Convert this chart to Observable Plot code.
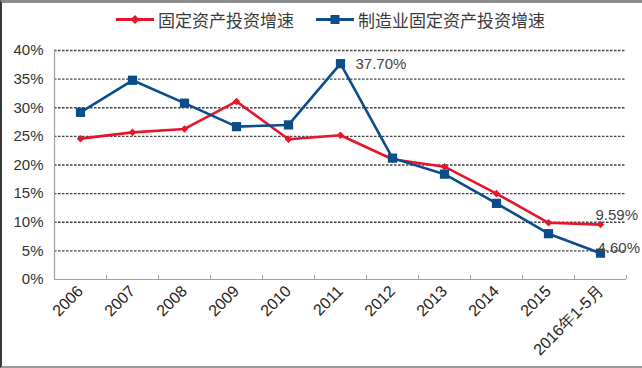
<!DOCTYPE html>
<html><head><meta charset="utf-8">
<script src="https://cdn.jsdelivr.net/npm/d3@7"></script>
<script src="https://cdn.jsdelivr.net/npm/@observablehq/plot@0.6"></script>
<style>
body{margin:0;background:#fff;}
#wrap{width:640px;height:363px;border-top:3px solid #8c8c8c;border-left:2px solid #3a3a3a;border-bottom:2px solid #9a9a9a;background:#fff;overflow:hidden;}
#legend{height:33px;position:relative;font-family:"Noto Sans CJK SC",sans-serif;font-size:17px;color:#3a3a3a;}
.item{position:absolute;top:4px;display:flex;align-items:center;}
.item span{margin-left:4px;}
</style></head>
<body>
<div id="wrap"><div id="legend"></div><div id="chart"></div></div>
<script>
const years = ["2006","2007","2008","2009","2010","2011","2012","2013","2014","2015","2016年1-5月"];
const seriesNames = ["固定资产投资增速","制造业固定资产投资增速"];
const fixedInvest = [24.6, 25.7, 26.3, 31.1, 24.5, 25.2, 21.0, 19.7, 15.0, 9.9, 9.59];
const mfgInvest = [29.2, 34.8, 30.8, 26.7, 27.0, 37.7, 21.2, 18.4, 13.3, 8.0, 4.60];
const yTicks = [0,5,10,15,20,25,30,35,40];
const labels = [
  {series: 1, i: 5, text: "37.70%"},
  {series: 0, i: 10, text: "9.59%"},
  {series: 1, i: 10, text: "4.60%"}
];
const colors = ["#E8142A", "#0B4C8A"];

// legend
const legend = document.getElementById("legend");
const legX = [114, 314];
seriesNames.forEach((name, k) => {
  const div = document.createElement("div");
  div.className = "item";
  div.style.left = legX[k] + "px";
  const sym = k === 0
    ? `<path d="M19 4 L23.5 8.5 L19 13 L14.5 8.5 Z" fill="${colors[k]}"/>`
    : `<rect x="14.5" y="4" width="9" height="9" fill="${colors[k]}"/>`;
  div.innerHTML = `<svg width="38" height="17"><line x1="0" x2="38" y1="8.5" y2="8.5" stroke="${colors[k]}" stroke-width="3"/>${sym}</svg><span>${name}</span>`;
  legend.appendChild(div);
});

const data = [];
[fixedInvest, mfgInvest].forEach((arr, s) => arr.forEach((v, i) => data.push({s, i, v})));
const lab = labels.map(d => ({...d, v: (d.series === 0 ? fixedInvest : mfgInvest)[d.i]}));
const boundaries = d3.range(-0.5, years.length, 1);

const chart = Plot.plot({
  width: 640, height: 329,
  marginTop: 14, marginBottom: 86, marginLeft: 52, marginRight: 16,
  style: {fontFamily: "'Liberation Sans', Arial, sans-serif", background: "#fff"},
  x: {domain: [-0.5, years.length - 0.5]},
  y: {domain: [0, 40]},
  marks: [
    Plot.ruleY(yTicks.filter(d => d > 0), {stroke: "#444", strokeWidth: 1.3, strokeDasharray: "2.5,1.5"}),
    Plot.ruleY([0], {stroke: "#9aa0a6", strokeWidth: 1.2}),
    Plot.ruleX([-0.5], {y1: 0, y2: 40, stroke: "#9aa0a6", strokeWidth: 1.2}),
    Plot.ruleX(boundaries, {y1: 0, y2: 0.7, stroke: "#9aa0a6"}),
    Plot.axisY({ticks: yTicks, tickFormat: d => d + "%", tickSize: 0, tickPadding: 11, fontSize: 15, fill: "#333", label: null}),
    Plot.axisX({ticks: d3.range(years.length), tickFormat: i => years[i], tickSize: 0, tickRotate: -45, tickPadding: 9, fontSize: 16, fill: "#222", label: null}),
    Plot.line(data, {x: "i", y: "v", z: "s", stroke: d => colors[d.s], strokeWidth: 2.6}),
    Plot.dot(data.filter(d => d.s === 0), {x: "i", y: "v", symbol: "diamond2", r: 3.4, fill: colors[0], stroke: null}),
    Plot.dot(data.filter(d => d.s === 1), {x: "i", y: "v", symbol: "square", r: 5.2, fill: colors[1], stroke: null}),
    Plot.text(lab.filter(d => d.i === 5), {x: "i", y: "v", text: "text", dx: 15, dy: 1, textAnchor: "start", fontSize: 15, fill: "#444"}),
    Plot.text(lab.filter(d => d.i === 10 && d.series === 0), {x: "i", y: "v", text: "text", dx: -5, dy: -9, textAnchor: "start", fontSize: 15, fill: "#444"}),
    Plot.text(lab.filter(d => d.i === 10 && d.series === 1), {x: "i", y: "v", text: "text", dx: -3, dy: -5, textAnchor: "start", fontSize: 15, fill: "#444"})
  ]
});
document.getElementById("chart").appendChild(chart);
</script>
</body></html>
